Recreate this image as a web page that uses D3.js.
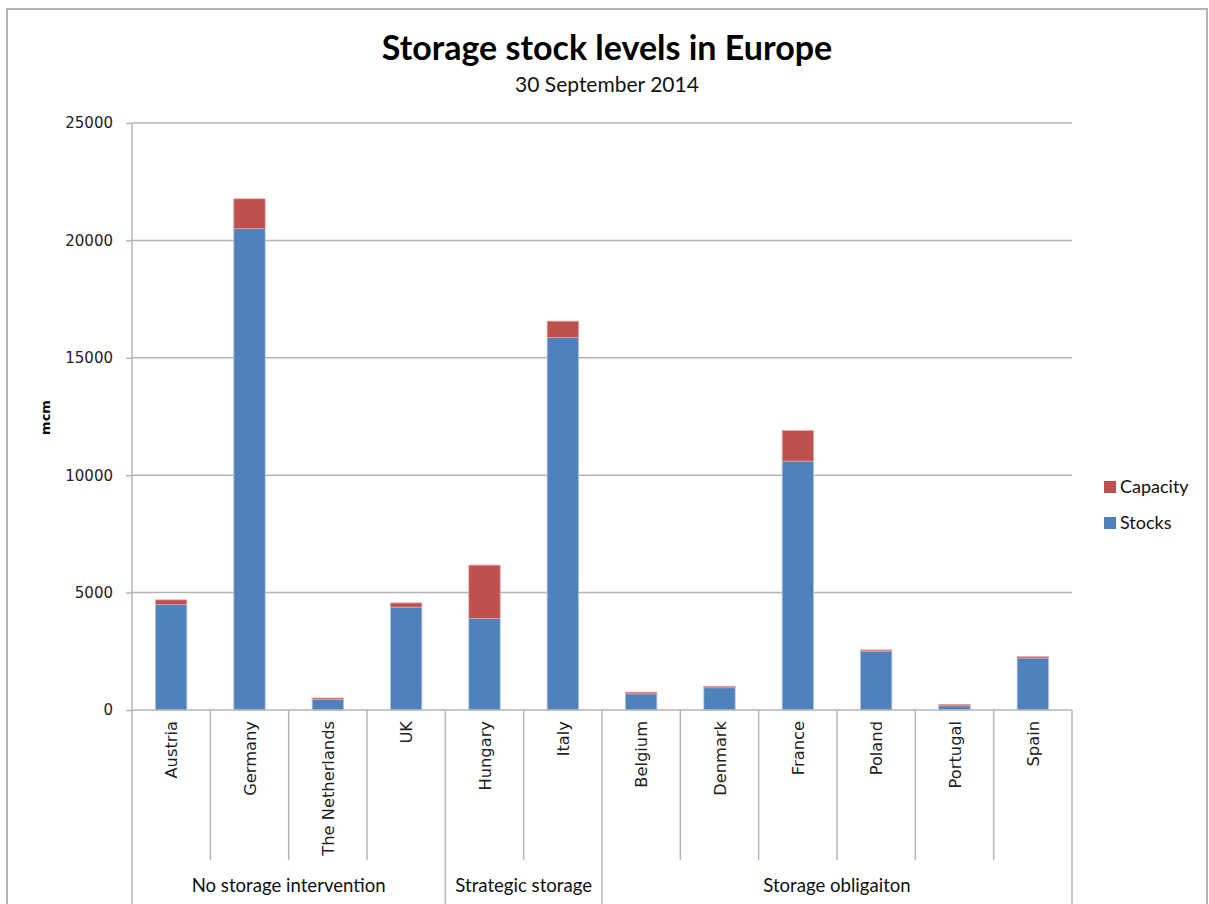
<!DOCTYPE html>
<html>
<head>
<meta charset="utf-8">
<script src="https://cdn.jsdelivr.net/npm/d3@7"></script>
<style>
  html, body { margin: 0; padding: 0; background: #fff; }
  svg { display: block; }
</style>
</head>
<body>
<svg id="chart" width="1209" height="904"></svg>
<script>
// Storage stock levels per country (mcm), grouped by storage policy
const categories = ["Austria", "Germany", "The Netherlands", "UK", "Hungary", "Italy",
                    "Belgium", "Denmark", "France", "Poland", "Portugal", "Spain"];
const groupOf = ["No storage intervention", "No storage intervention", "No storage intervention", "No storage intervention",
                 "Strategic storage", "Strategic storage",
                 "Storage obligaiton", "Storage obligaiton", "Storage obligaiton", "Storage obligaiton", "Storage obligaiton", "Storage obligaiton"];
const stocks   = [4490, 20500, 450, 4380, 3900, 15860, 690, 950, 10600, 2510, 180, 2215];
const capacity = [4690, 21770, 510, 4560, 6170, 16560, 760, 1010, 11900, 2560, 240, 2270];
const yTicks = [0, 5000, 10000, 15000, 20000, 25000];
const seriesNames = ["Capacity", "Stocks"];

const colors = { Stocks: "#4F81BD", Capacity: "#C0504D" };
const gridColor = "#b4b4b4";

const svg = d3.select("#chart");

// outer chart frame
svg.append("path")
  .attr("d", "M7,904 V9 H1207 V904")
  .attr("fill", "none").attr("stroke", "#b3b3b3").attr("stroke-width", 2);

const plot = { left: 132, right: 1072, top: 123, bottom: 710 };

const x = d3.scaleBand().domain(categories).range([plot.left, plot.right]).padding(0);
const y = d3.scaleLinear().domain([0, 25000]).range([plot.bottom, plot.top]);
const barW = x.bandwidth() * 0.4;

// title
svg.append("text")
  .attr("x", 607).attr("y", 60)
  .attr("text-anchor", "middle")
  .attr("font-family", "Lato, 'Open Sans', sans-serif")
  .attr("font-weight", "bold").attr("font-size", 34)
  .attr("fill", "#000")
  .text("Storage stock levels in Europe");
svg.append("text")
  .attr("x", 607).attr("y", 92)
  .attr("text-anchor", "middle")
  .attr("font-family", "Lato, 'Open Sans', sans-serif")
  .attr("font-size", 21)
  .attr("fill", "#111")
  .text("30 September 2014");

// horizontal gridlines + y ticks
const yAxis = d3.axisLeft(y).tickValues(yTicks).tickSize(6).tickPadding(13).tickFormat(d3.format("d"));
const gy = svg.append("g").attr("transform", `translate(${plot.left},0)`).call(yAxis);
gy.select(".domain").remove();
gy.selectAll(".tick line").attr("stroke", gridColor).attr("stroke-width", 1.5);
gy.selectAll(".tick text")
  .attr("font-family", "'DejaVu Sans', Verdana, sans-serif")
  .attr("font-size", 15).attr("fill", "#222");

svg.append("g").selectAll("line")
  .data(yTicks.filter(d => d > 0))
  .join("line")
  .attr("x1", plot.left).attr("x2", plot.right)
  .attr("y1", d => y(d)).attr("y2", d => y(d))
  .attr("stroke", gridColor).attr("stroke-width", 1.5);

// y axis title
svg.append("text")
  .attr("transform", `translate(50,${(plot.top + plot.bottom) / 2 + 1}) rotate(-90)`)
  .attr("text-anchor", "middle")
  .attr("font-family", "'DejaVu Sans', Verdana, sans-serif")
  .attr("font-weight", "bold").attr("font-size", 13)
  .attr("fill", "#000")
  .text("mcm");

// stacked bars: stocks at the bottom, remaining capacity on top
const bars = svg.append("g");
categories.forEach((c, i) => {
  const bx = x(c) + (x.bandwidth() - barW) / 2;
  bars.append("rect")
    .attr("x", bx).attr("width", barW)
    .attr("y", y(stocks[i])).attr("height", y(0) - y(stocks[i]))
    .attr("fill", colors.Stocks)
    .attr("stroke", "#a9c3e3").attr("stroke-width", 0.8);
  bars.append("rect")
    .attr("x", bx).attr("width", barW)
    .attr("y", y(capacity[i])).attr("height", y(stocks[i]) - y(capacity[i]))
    .attr("fill", colors.Capacity)
    .attr("stroke", "#e0a3a2").attr("stroke-width", 0.8);
});

// category axis baseline and left axis
svg.append("line")
  .attr("x1", plot.left).attr("x2", plot.right)
  .attr("y1", plot.bottom).attr("y2", plot.bottom)
  .attr("stroke", gridColor).attr("stroke-width", 1.5);
svg.append("line")
  .attr("x1", plot.left).attr("x2", plot.left)
  .attr("y1", plot.top).attr("y2", 904)
  .attr("stroke", gridColor).attr("stroke-width", 1.5);

// separators between categories; longer ones mark group boundaries
const boundaries = categories.map((c, i) => ({
  x: x(c) + x.bandwidth(),
  groupEnd: i === categories.length - 1 || groupOf[i] !== groupOf[i + 1]
}));
svg.append("g").selectAll("line")
  .data(boundaries)
  .join("line")
  .attr("x1", d => d.x).attr("x2", d => d.x)
  .attr("y1", plot.bottom).attr("y2", d => d.groupEnd ? 904 : 860)
  .attr("stroke", gridColor).attr("stroke-width", 1.5);

// rotated category labels
svg.append("g").selectAll("text")
  .data(categories)
  .join("text")
  .attr("transform", d => `translate(${x(d) + x.bandwidth() / 2 + 6},721) rotate(-90)`)
  .attr("text-anchor", "end")
  .attr("font-family", "'DejaVu Sans', Verdana, sans-serif")
  .attr("font-size", 16.3).attr("fill", "#222")
  .text(d => d);

// group labels
const groups = Array.from(d3.group(categories.map((c, i) => ({ c, g: groupOf[i] })), d => d.g),
  ([g, items]) => ({ g, x0: x(items[0].c), x1: x(items[items.length - 1].c) + x.bandwidth() }));
svg.append("g").selectAll("text")
  .data(groups)
  .join("text")
  .attr("x", d => (d.x0 + d.x1) / 2).attr("y", 892)
  .attr("text-anchor", "middle")
  .attr("font-family", "Lato, 'Open Sans', sans-serif")
  .attr("font-size", 18.6).attr("fill", "#111")
  .text(d => d.g);

// legend
const legend = svg.append("g").attr("transform", "translate(1104,481)");
seriesNames.forEach((s, i) => {
  const row = legend.append("g").attr("transform", `translate(0,${i * 36})`);
  row.append("rect").attr("width", 12).attr("height", 12).attr("fill", colors[s]);
  row.append("text")
    .attr("x", 16).attr("y", 12)
    .attr("font-family", "Lato, 'Open Sans', sans-serif")
    .attr("font-size", 18).attr("fill", "#111")
    .text(s);
});
</script>
</body>
</html>
